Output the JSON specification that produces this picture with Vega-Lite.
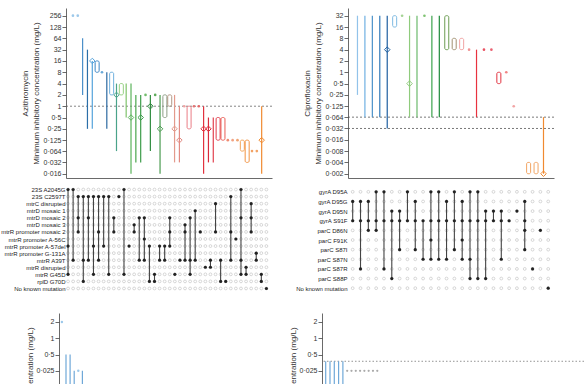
{
"$schema": "https://vega.github.io/schema/vega-lite/v6.json",
"padding": {"left": 0, "top": 8, "right": 0, "bottom": 0},
"config": {
  "view": {"stroke": null},
  "font": "Liberation Sans Narrow, Liberation Sans, sans-serif",
  "axis": {"labelFontSize": 7, "titleFontSize": 8, "titleFont": "Liberation Sans, sans-serif", "labelColor": "#333", "titleColor": "#333", "titleFontWeight": "normal", "domainColor": "#444", "tickColor": "#444", "tickSize": 4, "labelPadding": 1, "grid": false, "domainWidth": 0.8, "tickWidth": 0.8, "labelOverlap": false, "labelFlush": false, "labelBound": false}
},
"datasets": {
  "azv": [
    {"col":1,"lo":256,"hi":256,"kind":"dot"},
    {"col":2,"lo":256,"hi":256,"kind":"dot"},
    {"col":3,"lo":2,"hi":64,"kind":"line"},
    {"col":4,"lo":0.25,"hi":32,"kind":"line"},
    {"col":5,"lo":0.25,"hi":16,"kind":"line","mode":16},
    {"col":6,"lo":8,"hi":16,"kind":"box"},
    {"col":7,"lo":8,"hi":8,"kind":"dot"},
    {"col":8,"lo":0.25,"hi":8,"kind":"line"},
    {"col":9,"lo":2,"hi":8,"kind":"box"},
    {"col":10,"lo":0.064,"hi":4,"kind":"line","mode":2},
    {"col":11,"lo":2,"hi":4,"kind":"box"},
    {"col":12,"lo":0.5,"hi":4,"kind":"line"},
    {"col":13,"lo":0.016,"hi":4,"kind":"line","mode":0.5},
    {"col":14,"lo":0.032,"hi":2,"kind":"line"},
    {"col":15,"lo":0.032,"hi":2,"kind":"line","mode":0.5},
    {"col":16,"lo":2,"hi":2,"kind":"dot"},
    {"col":17,"lo":0.064,"hi":2,"kind":"line","mode":1},
    {"col":18,"lo":2,"hi":2,"kind":"dot"},
    {"col":19,"lo":0.016,"hi":2,"kind":"line","mode":0.25},
    {"col":20,"lo":0.5,"hi":2,"kind":"box"},
    {"col":21,"lo":1,"hi":2,"kind":"box"},
    {"col":22,"lo":0.032,"hi":2,"kind":"line","mode":0.25},
    {"col":23,"lo":0.032,"hi":1,"kind":"line","mode":0.125},
    {"col":24,"lo":1,"hi":1,"kind":"dot"},
    {"col":25,"lo":0.25,"hi":1,"kind":"box"},
    {"col":26,"lo":1,"hi":1,"kind":"dot"},
    {"col":27,"lo":1,"hi":1,"kind":"dot"},
    {"col":28,"lo":0.016,"hi":1,"kind":"line","mode":0.25},
    {"col":29,"lo":0.032,"hi":0.5,"kind":"line","mode":0.25},
    {"col":30,"lo":0.032,"hi":0.5,"kind":"line"},
    {"col":31,"lo":0.125,"hi":0.5,"kind":"box"},
    {"col":32,"lo":0.125,"hi":0.5,"kind":"box"},
    {"col":33,"lo":0.125,"hi":0.125,"kind":"dot"},
    {"col":34,"lo":0.125,"hi":0.125,"kind":"dot"},
    {"col":35,"lo":0.125,"hi":0.125,"kind":"dot"},
    {"col":36,"lo":0.064,"hi":0.125,"kind":"box"},
    {"col":37,"lo":0.032,"hi":0.125,"kind":"box"},
    {"col":38,"lo":0.064,"hi":0.064,"kind":"dot"},
    {"col":39,"lo":0.064,"hi":0.064,"kind":"dot"},
    {"col":40,"lo":0.016,"hi":1,"kind":"line","mode":0.125}
  ],
  "cpv": [
    {"col":1,"lo":0.25,"hi":32,"kind":"line"},
    {"col":2,"lo":0.064,"hi":32,"kind":"line"},
    {"col":3,"lo":0.064,"hi":32,"kind":"line"},
    {"col":4,"lo":0.064,"hi":32,"kind":"line"},
    {"col":5,"lo":0.032,"hi":32,"kind":"line","mode":4},
    {"col":6,"lo":16,"hi":32,"kind":"box"},
    {"col":7,"lo":32,"hi":32,"kind":"dot"},
    {"col":8,"lo":0.064,"hi":32,"kind":"line","mode":0.5},
    {"col":9,"lo":0.064,"hi":32,"kind":"line"},
    {"col":10,"lo":32,"hi":32,"kind":"dot"},
    {"col":11,"lo":0.064,"hi":32,"kind":"line"},
    {"col":12,"lo":0.064,"hi":32,"kind":"line"},
    {"col":13,"lo":4,"hi":32,"kind":"box"},
    {"col":14,"lo":4,"hi":8,"kind":"box"},
    {"col":15,"lo":4,"hi":8,"kind":"box"},
    {"col":16,"lo":4,"hi":4,"kind":"dot"},
    {"col":17,"lo":0.064,"hi":4,"kind":"line"},
    {"col":18,"lo":4,"hi":4,"kind":"dot"},
    {"col":19,"lo":4,"hi":4,"kind":"dot"},
    {"col":20,"lo":0.5,"hi":1,"kind":"box"},
    {"col":21,"lo":1,"hi":1,"kind":"dot"},
    {"col":22,"lo":0.125,"hi":0.125,"kind":"dot"},
    {"col":24,"lo":0.002,"hi":0.004,"kind":"box"},
    {"col":25,"lo":0.002,"hi":0.004,"kind":"box"},
    {"col":26,"lo":0.002,"hi":0.064,"kind":"line","mode":0.002}
  ],
  "azm": [
    {"col":1,"rows":[1,9,13]},{"col":2,"rows":[1,11]},{"col":3,"rows":[2,5,7]},{"col":4,"rows":[2,11,14]},
    {"col":5,"rows":[2,5,11]},{"col":6,"rows":[2,9,13]},{"col":7,"rows":[2,7,11]},{"col":8,"rows":[2,9]},
    {"col":9,"rows":[2,13]},{"col":10,"rows":[5,7]},{"col":11,"rows":[2]},{"col":12,"rows":[1,13]},
    {"col":13,"rows":[9]},{"col":14,"rows":[6,7]},{"col":15,"rows":[5,11]},{"col":16,"rows":[5,8,11]},
    {"col":17,"rows":[9,14]},{"col":18,"rows":[13,14]},{"col":19,"rows":[9,11]},{"col":20,"rows":[9,11]},
    {"col":21,"rows":[5,7,9]},{"col":22,"rows":[13]},{"col":23,"rows":[11]},{"col":24,"rows":[6,7,11]},
    {"col":25,"rows":[5,11,13]},{"col":26,"rows":[4,11]},{"col":27,"rows":[7]},{"col":28,"rows":[12]},
    {"col":29,"rows":[11,12]},{"col":30,"rows":[3,7]},{"col":31,"rows":[11,14]},{"col":32,"rows":[14]},
    {"col":33,"rows":[2,7,11]},{"col":34,"rows":[8]},{"col":35,"rows":[1,5,11,13]},{"col":36,"rows":[12,13]},
    {"col":37,"rows":[3,5,7]},{"col":38,"rows":[10,11]},{"col":39,"rows":[13,14]},{"col":40,"rows":[15]}
  ],
  "cpm": [
    {"col":1,"rows":[2,4]},{"col":2,"rows":[2,4,9]},{"col":3,"rows":[2,4,5]},{"col":4,"rows":[1,4,5]},
    {"col":5,"rows":[1,4,9]},{"col":6,"rows":[3,4,10]},{"col":7,"rows":[3,4,7]},{"col":8,"rows":[1,4]},
    {"col":9,"rows":[2,4,7]},{"col":10,"rows":[4,8]},{"col":11,"rows":[1,4,6,8]},{"col":12,"rows":[1,4,8]},
    {"col":13,"rows":[2,4,8]},{"col":14,"rows":[1,4,7]},{"col":15,"rows":[2,4,6,8]},{"col":16,"rows":[1,4,8,10]},
    {"col":17,"rows":[1,4,10]},{"col":18,"rows":[3,4,10]},{"col":19,"rows":[3,4]},{"col":20,"rows":[3,4,8]},
    {"col":21,"rows":[4]},{"col":22,"rows":[3]},{"col":23,"rows":[2,4,5,7]},{"col":24,"rows":[9]},
    {"col":25,"rows":[5]},{"col":26,"rows":[11]}
  ],
  "azgrid": [
    {"r":1,"col":[1,2,3,4,5,6,7,8,9,10,11,12,13,14,15,16,17,18,19,20,21,22,23,24,25,26,27,28,29,30,31,32,33,34,35,36,37,38,39,40]},
    {"r":2,"col":[1,2,3,4,5,6,7,8,9,10,11,12,13,14,15,16,17,18,19,20,21,22,23,24,25,26,27,28,29,30,31,32,33,34,35,36,37,38,39,40]},
    {"r":3,"col":[1,2,3,4,5,6,7,8,9,10,11,12,13,14,15,16,17,18,19,20,21,22,23,24,25,26,27,28,29,30,31,32,33,34,35,36,37,38,39,40]},
    {"r":4,"col":[1,2,3,4,5,6,7,8,9,10,11,12,13,14,15,16,17,18,19,20,21,22,23,24,25,26,27,28,29,30,31,32,33,34,35,36,37,38,39,40]},
    {"r":5,"col":[1,2,3,4,5,6,7,8,9,10,11,12,13,14,15,16,17,18,19,20,21,22,23,24,25,26,27,28,29,30,31,32,33,34,35,36,37,38,39,40]},
    {"r":6,"col":[1,2,3,4,5,6,7,8,9,10,11,12,13,14,15,16,17,18,19,20,21,22,23,24,25,26,27,28,29,30,31,32,33,34,35,36,37,38,39,40]},
    {"r":7,"col":[1,2,3,4,5,6,7,8,9,10,11,12,13,14,15,16,17,18,19,20,21,22,23,24,25,26,27,28,29,30,31,32,33,34,35,36,37,38,39,40]},
    {"r":8,"col":[1,2,3,4,5,6,7,8,9,10,11,12,13,14,15,16,17,18,19,20,21,22,23,24,25,26,27,28,29,30,31,32,33,34,35,36,37,38,39,40]},
    {"r":9,"col":[1,2,3,4,5,6,7,8,9,10,11,12,13,14,15,16,17,18,19,20,21,22,23,24,25,26,27,28,29,30,31,32,33,34,35,36,37,38,39,40]},
    {"r":10,"col":[1,2,3,4,5,6,7,8,9,10,11,12,13,14,15,16,17,18,19,20,21,22,23,24,25,26,27,28,29,30,31,32,33,34,35,36,37,38,39,40]},
    {"r":11,"col":[1,2,3,4,5,6,7,8,9,10,11,12,13,14,15,16,17,18,19,20,21,22,23,24,25,26,27,28,29,30,31,32,33,34,35,36,37,38,39,40]},
    {"r":12,"col":[1,2,3,4,5,6,7,8,9,10,11,12,13,14,15,16,17,18,19,20,21,22,23,24,25,26,27,28,29,30,31,32,33,34,35,36,37,38,39,40]},
    {"r":13,"col":[1,2,3,4,5,6,7,8,9,10,11,12,13,14,15,16,17,18,19,20,21,22,23,24,25,26,27,28,29,30,31,32,33,34,35,36,37,38,39,40]},
    {"r":14,"col":[1,2,3,4,5,6,7,8,9,10,11,12,13,14,15,16,17,18,19,20,21,22,23,24,25,26,27,28,29,30,31,32,33,34,35,36,37,38,39,40]},
    {"r":15,"col":[1,2,3,4,5,6,7,8,9,10,11,12,13,14,15,16,17,18,19,20,21,22,23,24,25,26,27,28,29,30,31,32,33,34,35,36,37,38,39,40]}
  ],
  "cpgrid": [
    {"r":1,"col":[1,2,3,4,5,6,7,8,9,10,11,12,13,14,15,16,17,18,19,20,21,22,23,24,25,26]},
    {"r":2,"col":[1,2,3,4,5,6,7,8,9,10,11,12,13,14,15,16,17,18,19,20,21,22,23,24,25,26]},
    {"r":3,"col":[1,2,3,4,5,6,7,8,9,10,11,12,13,14,15,16,17,18,19,20,21,22,23,24,25,26]},
    {"r":4,"col":[1,2,3,4,5,6,7,8,9,10,11,12,13,14,15,16,17,18,19,20,21,22,23,24,25,26]},
    {"r":5,"col":[1,2,3,4,5,6,7,8,9,10,11,12,13,14,15,16,17,18,19,20,21,22,23,24,25,26]},
    {"r":6,"col":[1,2,3,4,5,6,7,8,9,10,11,12,13,14,15,16,17,18,19,20,21,22,23,24,25,26]},
    {"r":7,"col":[1,2,3,4,5,6,7,8,9,10,11,12,13,14,15,16,17,18,19,20,21,22,23,24,25,26]},
    {"r":8,"col":[1,2,3,4,5,6,7,8,9,10,11,12,13,14,15,16,17,18,19,20,21,22,23,24,25,26]},
    {"r":9,"col":[1,2,3,4,5,6,7,8,9,10,11,12,13,14,15,16,17,18,19,20,21,22,23,24,25,26]},
    {"r":10,"col":[1,2,3,4,5,6,7,8,9,10,11,12,13,14,15,16,17,18,19,20,21,22,23,24,25,26]},
    {"r":11,"col":[1,2,3,4,5,6,7,8,9,10,11,12,13,14,15,16,17,18,19,20,21,22,23,24,25,26]}
  ],
  "lav": [
    {"col":1,"lo":2,"hi":2,"kind":"dot"},
    {"col":2,"lo":0.032,"hi":0.5,"kind":"line"},
    {"col":3,"lo":0.032,"hi":0.5,"kind":"line"},
    {"col":4,"lo":0.032,"hi":0.25,"kind":"line"},
    {"col":5,"lo":0.25,"hi":0.25,"kind":"dot"},
    {"col":6,"lo":0.064,"hi":0.25,"kind":"line"}
  ],
  "lcv": [
    {"col":1,"lo":0.032,"hi":0.375,"kind":"line"},
    {"col":2,"lo":0.032,"hi":0.375,"kind":"line"},
    {"col":3,"lo":0.032,"hi":0.375,"kind":"line"},
    {"col":4,"lo":0.032,"hi":0.375,"kind":"line"},
    {"col":5,"lo":0.032,"hi":0.375,"kind":"line"},
    {"col":6,"lo":0.25,"hi":0.25,"kind":"dot"},
    {"col":7,"lo":0.25,"hi":0.25,"kind":"dot"},
    {"col":8,"lo":0.25,"hi":0.25,"kind":"dot"},
    {"col":9,"lo":0.25,"hi":0.25,"kind":"dot"},
    {"col":10,"lo":0.25,"hi":0.25,"kind":"dot"},
    {"col":11,"lo":0.25,"hi":0.25,"kind":"dot"},
    {"col":12,"lo":0.25,"hi":0.25,"kind":"dot"},
    {"col":13,"lo":0.25,"hi":0.25,"kind":"dot"}
  ]
},
"spacing": 20,
"resolve": {"scale": {"color": "independent"}},
"vconcat": [
 {"hconcat": [
  {"vconcat": [
   {"width": 206, "height": 170,
    "layer": [
     {"data": {"values": [{"ref": 1}]}, "mark": {"type": "rule", "strokeDash": [2, 2], "strokeWidth": 0.8, "color": "#666"},
      "encoding": {"y": {"field": "ref", "type": "quantitative", "scale": {"type": "log", "base": 2, "domain": [0.0123, 410], "nice": false}, "axis": {"values": [256,128,64,32,16,8,4,2,1,0.5,0.25,0.125,0.064,0.032,0.016], "labelExpr": "replace(toString(datum.value), '.', '·')", "title": ["Azithromycin", "Minimum inhibitory concentration (mg/L)"], "titlePadding": 3, "titleLineHeight": 11}}}},
     {"data": {"name": "azv"}, "transform": [{"filter": "datum.kind == 'line'"}], "mark": {"type": "rule", "strokeWidth": 1.2},
      "encoding": {"x": {"field": "col", "type": "quantitative", "scale": {"domain": [0.6, 41.1], "nice": false, "zero": false}, "axis": {"labels": false, "ticks": false, "title": null, "domain": true}},
       "y": {"field": "lo", "type": "quantitative", "scale": {"type": "log", "base": 2, "domain": [0.0123, 410], "nice": false}, "axis": {"values": [256,128,64,32,16,8,4,2,1,0.5,0.25,0.125,0.064,0.032,0.016], "labelExpr": "replace(toString(datum.value), '.', '·')", "title": ["Azithromycin", "Minimum inhibitory concentration (mg/L)"], "titlePadding": 3, "titleLineHeight": 11}},
       "y2": {"field": "hi"},
       "color": {"field": "col", "type": "ordinal", "scale": {"domain": [1,2,3,4,5,6,7,8,9,10,11,12,13,14,15,16,17,18,19,20,21,22,23,24,25,26,27,28,29,30,31,32,33,34,35,36,37,38,39,40], "range": ["#9cc8ea","#9cc8ea","#4a8fc9","#2b6ea8","#55a3dc","#3a85c4","#6aaad8","#2c69a0","#6fb0de","#4aa38a","#94d080","#80c46c","#5cb35c","#4aa64c","#3d9c4a","#72bd6c","#2f8b3f","#5eab5a","#4c9c52","#8e9e86","#b39684","#e39a8c","#e28a82","#f0a4a4","#ea7d86","#e57575","#e36868","#e2323f","#da2a3a","#e2414f","#e33c4a","#ea5c54","#f08c72","#f2a282","#f0a574","#f2a456","#f29342","#f2a366","#f2a366","#f08a30"]}, "legend": null}}},
     {"data": {"name": "azv"}, "transform": [{"filter": "datum.kind == 'box'"}], "mark": {"type": "bar", "width": 4, "filled": false, "strokeWidth": 1, "cornerRadius": 1.5},
      "encoding": {"x": {"field": "col", "type": "quantitative", "scale": {"domain": [0.6, 41.1], "nice": false, "zero": false}, "axis": {"labels": false, "ticks": false, "title": null, "domain": true}},
       "y": {"field": "lo", "type": "quantitative", "scale": {"type": "log", "base": 2, "domain": [0.0123, 410], "nice": false}, "axis": {"values": [256,128,64,32,16,8,4,2,1,0.5,0.25,0.125,0.064,0.032,0.016], "labelExpr": "replace(toString(datum.value), '.', '·')", "title": ["Azithromycin", "Minimum inhibitory concentration (mg/L)"], "titlePadding": 3, "titleLineHeight": 11}},
       "y2": {"field": "hi"},
       "color": {"field": "col", "type": "ordinal", "scale": {"domain": [1,2,3,4,5,6,7,8,9,10,11,12,13,14,15,16,17,18,19,20,21,22,23,24,25,26,27,28,29,30,31,32,33,34,35,36,37,38,39,40], "range": ["#9cc8ea","#9cc8ea","#4a8fc9","#2b6ea8","#55a3dc","#3a85c4","#6aaad8","#2c69a0","#6fb0de","#4aa38a","#94d080","#80c46c","#5cb35c","#4aa64c","#3d9c4a","#72bd6c","#2f8b3f","#5eab5a","#4c9c52","#8e9e86","#b39684","#e39a8c","#e28a82","#f0a4a4","#ea7d86","#e57575","#e36868","#e2323f","#da2a3a","#e2414f","#e33c4a","#ea5c54","#f08c72","#f2a282","#f0a574","#f2a456","#f29342","#f2a366","#f2a366","#f08a30"]}, "legend": null}}},
     {"data": {"name": "azv"}, "transform": [{"filter": "isValid(datum.mode)"}], "mark": {"type": "point", "shape": "diamond", "filled": false, "size": 30, "strokeWidth": 1, "opacity": 1},
      "encoding": {"x": {"field": "col", "type": "quantitative", "scale": {"domain": [0.6, 41.1], "nice": false, "zero": false}, "axis": {"labels": false, "ticks": false, "title": null, "domain": true}},
       "y": {"field": "mode", "type": "quantitative", "scale": {"type": "log", "base": 2, "domain": [0.0123, 410], "nice": false}, "axis": {"values": [256,128,64,32,16,8,4,2,1,0.5,0.25,0.125,0.064,0.032,0.016], "labelExpr": "replace(toString(datum.value), '.', '·')", "title": ["Azithromycin", "Minimum inhibitory concentration (mg/L)"], "titlePadding": 3, "titleLineHeight": 11}},
       "color": {"field": "col", "type": "ordinal", "scale": {"domain": [1,2,3,4,5,6,7,8,9,10,11,12,13,14,15,16,17,18,19,20,21,22,23,24,25,26,27,28,29,30,31,32,33,34,35,36,37,38,39,40], "range": ["#9cc8ea","#9cc8ea","#4a8fc9","#2b6ea8","#55a3dc","#3a85c4","#6aaad8","#2c69a0","#6fb0de","#4aa38a","#94d080","#80c46c","#5cb35c","#4aa64c","#3d9c4a","#72bd6c","#2f8b3f","#5eab5a","#4c9c52","#8e9e86","#b39684","#e39a8c","#e28a82","#f0a4a4","#ea7d86","#e57575","#e36868","#e2323f","#da2a3a","#e2414f","#e33c4a","#ea5c54","#f08c72","#f2a282","#f0a574","#f2a456","#f29342","#f2a366","#f2a366","#f08a30"]}, "legend": null}}},
     {"data": {"name": "azv"}, "transform": [{"filter": "datum.kind == 'dot'"}], "mark": {"type": "point", "shape": "circle", "filled": true, "size": 7, "opacity": 1},
      "encoding": {"x": {"field": "col", "type": "quantitative", "scale": {"domain": [0.6, 41.1], "nice": false, "zero": false}, "axis": {"labels": false, "ticks": false, "title": null, "domain": true}},
       "y": {"field": "lo", "type": "quantitative", "scale": {"type": "log", "base": 2, "domain": [0.0123, 410], "nice": false}, "axis": {"values": [256,128,64,32,16,8,4,2,1,0.5,0.25,0.125,0.064,0.032,0.016], "labelExpr": "replace(toString(datum.value), '.', '·')", "title": ["Azithromycin", "Minimum inhibitory concentration (mg/L)"], "titlePadding": 3, "titleLineHeight": 11}},
       "color": {"field": "col", "type": "ordinal", "scale": {"domain": [1,2,3,4,5,6,7,8,9,10,11,12,13,14,15,16,17,18,19,20,21,22,23,24,25,26,27,28,29,30,31,32,33,34,35,36,37,38,39,40], "range": ["#9cc8ea","#9cc8ea","#4a8fc9","#2b6ea8","#55a3dc","#3a85c4","#6aaad8","#2c69a0","#6fb0de","#4aa38a","#94d080","#80c46c","#5cb35c","#4aa64c","#3d9c4a","#72bd6c","#2f8b3f","#5eab5a","#4c9c52","#8e9e86","#b39684","#e39a8c","#e28a82","#f0a4a4","#ea7d86","#e57575","#e36868","#e2323f","#da2a3a","#e2414f","#e33c4a","#ea5c54","#f08c72","#f2a282","#f0a574","#f2a456","#f29342","#f2a366","#f2a366","#f08a30"]}, "legend": null}}}
    ]},
   {"width": 206, "height": 106,
    "layer": [
     {"data": {"name": "azgrid"}, "transform": [{"flatten": ["col"]}], "mark": {"type": "point", "shape": "circle", "filled": false, "color": "#bdbdbd", "size": 8, "strokeWidth": 0.6, "opacity": 1},
      "encoding": {"x": {"field": "col", "type": "quantitative", "scale": {"domain": [0.6, 41.1], "nice": false, "zero": false}, "axis": null},
       "y": {"field": "r", "type": "quantitative", "scale": {"domain": [0.5, 15.5], "reverse": true, "nice": false, "zero": false}, "axis": {"values": [1,2,3,4,5,6,7,8,9,10,11,12,13,14,15], "labelExpr": "['23S A2045G','23S C2597T','mtrC disrupted','mtrD mosaic 1','mtrD mosaic 2','mtrD mosaic 3','mtrR promoter mosaic 2','mtrR promoter A-56C','mtrR promoter A-57del','mtrR promoter G-131A','mtrR A39T','mtrR disrupted','mtrR G45D','rplD G70D','No known mutation'][datum.value - 1]", "domain": false, "ticks": false, "labelPadding": 1, "labelFontSize": 6.0, "labelColor": "#222", "title": null}}}},
     {"data": {"name": "azm"}, "transform": [{"flatten": ["rows"]}, {"aggregate": [{"op": "min", "field": "rows", "as": "r1"}, {"op": "max", "field": "rows", "as": "r2"}], "groupby": ["col"]}], "mark": {"type": "rule", "color": "#444", "strokeWidth": 1.1},
      "encoding": {"x": {"field": "col", "type": "quantitative", "scale": {"domain": [0.6, 41.1], "nice": false, "zero": false}, "axis": null},
       "y": {"field": "r1", "type": "quantitative", "scale": {"domain": [0.5, 15.5], "reverse": true, "nice": false, "zero": false}, "axis": {"values": [1,2,3,4,5,6,7,8,9,10,11,12,13,14,15], "labelExpr": "['23S A2045G','23S C2597T','mtrC disrupted','mtrD mosaic 1','mtrD mosaic 2','mtrD mosaic 3','mtrR promoter mosaic 2','mtrR promoter A-56C','mtrR promoter A-57del','mtrR promoter G-131A','mtrR A39T','mtrR disrupted','mtrR G45D','rplD G70D','No known mutation'][datum.value - 1]", "domain": false, "ticks": false, "labelPadding": 1, "labelFontSize": 6.0, "labelColor": "#222", "title": null}},
       "y2": {"field": "r2"}}},
     {"data": {"name": "azm"}, "transform": [{"flatten": ["rows"]}], "mark": {"type": "point", "shape": "circle", "filled": true, "color": "#222", "size": 10, "opacity": 1},
      "encoding": {"x": {"field": "col", "type": "quantitative", "scale": {"domain": [0.6, 41.1], "nice": false, "zero": false}, "axis": null},
       "y": {"field": "rows", "type": "quantitative", "scale": {"domain": [0.5, 15.5], "reverse": true, "nice": false, "zero": false}, "axis": {"values": [1,2,3,4,5,6,7,8,9,10,11,12,13,14,15], "labelExpr": "['23S A2045G','23S C2597T','mtrC disrupted','mtrD mosaic 1','mtrD mosaic 2','mtrD mosaic 3','mtrR promoter mosaic 2','mtrR promoter A-56C','mtrR promoter A-57del','mtrR promoter G-131A','mtrR A39T','mtrR disrupted','mtrR G45D','rplD G70D','No known mutation'][datum.value - 1]", "domain": false, "ticks": false, "labelPadding": 1, "labelFontSize": 6.0, "labelColor": "#222", "title": null}}}}
    ]}
  ], "spacing": 8, "resolve": {"scale": {"color": "independent"}}},
  {"vconcat": [
   {"width": 206, "height": 170,
    "layer": [
     {"data": {"values": [{"ref": 0.064}, {"ref": 0.032}]}, "mark": {"type": "rule", "strokeDash": [2, 2], "strokeWidth": 0.8, "color": "#555"},
      "encoding": {"y": {"field": "ref", "type": "quantitative", "scale": {"type": "log", "base": 2, "domain": [0.00154, 51.3], "nice": false}, "axis": {"values": [32,16,8,4,2,1,0.5,0.25,0.125,0.064,0.032,0.016,0.008,0.004,0.002], "labelExpr": "replace(toString(datum.value), '.', '·')", "title": ["Ciprofloxacin", "Minimum inhibitory concentration (mg/L)"], "titlePadding": 3, "titleLineHeight": 11}}}},
     {"data": {"name": "cpv"}, "transform": [{"filter": "datum.kind == 'line'"}], "mark": {"type": "rule", "strokeWidth": 1.2},
      "encoding": {"x": {"field": "col", "type": "quantitative", "scale": {"domain": [0.4, 26.74], "nice": false, "zero": false}, "axis": {"labels": false, "ticks": false, "title": null, "domain": true}},
       "y": {"field": "lo", "type": "quantitative", "scale": {"type": "log", "base": 2, "domain": [0.00154, 51.3], "nice": false}, "axis": {"values": [32,16,8,4,2,1,0.5,0.25,0.125,0.064,0.032,0.016,0.008,0.004,0.002], "labelExpr": "replace(toString(datum.value), '.', '·')", "title": ["Ciprofloxacin", "Minimum inhibitory concentration (mg/L)"], "titlePadding": 3, "titleLineHeight": 11}},
       "y2": {"field": "hi"},
       "color": {"field": "col", "type": "ordinal", "scale": {"domain": [1,2,3,4,5,6,7,8,9,10,11,12,13,14,15,16,17,18,19,20,21,22,23,24,25,26], "range": ["#92c3ea","#6fb0e2","#4b91c9","#2f79b9","#1f5fa0","#7db9e2","#a4d394","#8fcb7c","#6cba6c","#7fc372","#3ca24c","#1f8a3a","#6c9c52","#a39272","#f2a4a4","#f09494","#e8323f","#ea5262","#ea6272","#e2323f","#f28484","#f2a4a4","#f0a060","#f2a462","#f2a462","#f08a30"]}, "legend": null}}},
     {"data": {"name": "cpv"}, "transform": [{"filter": "datum.kind == 'box'"}], "mark": {"type": "bar", "width": 4, "filled": false, "strokeWidth": 1, "cornerRadius": 1.5},
      "encoding": {"x": {"field": "col", "type": "quantitative", "scale": {"domain": [0.4, 26.74], "nice": false, "zero": false}, "axis": {"labels": false, "ticks": false, "title": null, "domain": true}},
       "y": {"field": "lo", "type": "quantitative", "scale": {"type": "log", "base": 2, "domain": [0.00154, 51.3], "nice": false}, "axis": {"values": [32,16,8,4,2,1,0.5,0.25,0.125,0.064,0.032,0.016,0.008,0.004,0.002], "labelExpr": "replace(toString(datum.value), '.', '·')", "title": ["Ciprofloxacin", "Minimum inhibitory concentration (mg/L)"], "titlePadding": 3, "titleLineHeight": 11}},
       "y2": {"field": "hi"},
       "color": {"field": "col", "type": "ordinal", "scale": {"domain": [1,2,3,4,5,6,7,8,9,10,11,12,13,14,15,16,17,18,19,20,21,22,23,24,25,26], "range": ["#92c3ea","#6fb0e2","#4b91c9","#2f79b9","#1f5fa0","#7db9e2","#a4d394","#8fcb7c","#6cba6c","#7fc372","#3ca24c","#1f8a3a","#6c9c52","#a39272","#f2a4a4","#f09494","#e8323f","#ea5262","#ea6272","#e2323f","#f28484","#f2a4a4","#f0a060","#f2a462","#f2a462","#f08a30"]}, "legend": null}}},
     {"data": {"name": "cpv"}, "transform": [{"filter": "isValid(datum.mode)"}], "mark": {"type": "point", "shape": "diamond", "filled": false, "size": 30, "strokeWidth": 1, "opacity": 1},
      "encoding": {"x": {"field": "col", "type": "quantitative", "scale": {"domain": [0.4, 26.74], "nice": false, "zero": false}, "axis": {"labels": false, "ticks": false, "title": null, "domain": true}},
       "y": {"field": "mode", "type": "quantitative", "scale": {"type": "log", "base": 2, "domain": [0.00154, 51.3], "nice": false}, "axis": {"values": [32,16,8,4,2,1,0.5,0.25,0.125,0.064,0.032,0.016,0.008,0.004,0.002], "labelExpr": "replace(toString(datum.value), '.', '·')", "title": ["Ciprofloxacin", "Minimum inhibitory concentration (mg/L)"], "titlePadding": 3, "titleLineHeight": 11}},
       "color": {"field": "col", "type": "ordinal", "scale": {"domain": [1,2,3,4,5,6,7,8,9,10,11,12,13,14,15,16,17,18,19,20,21,22,23,24,25,26], "range": ["#92c3ea","#6fb0e2","#4b91c9","#2f79b9","#1f5fa0","#7db9e2","#a4d394","#8fcb7c","#6cba6c","#7fc372","#3ca24c","#1f8a3a","#6c9c52","#a39272","#f2a4a4","#f09494","#e8323f","#ea5262","#ea6272","#e2323f","#f28484","#f2a4a4","#f0a060","#f2a462","#f2a462","#f08a30"]}, "legend": null}}},
     {"data": {"name": "cpv"}, "transform": [{"filter": "datum.kind == 'dot'"}], "mark": {"type": "point", "shape": "circle", "filled": true, "size": 7, "opacity": 1},
      "encoding": {"x": {"field": "col", "type": "quantitative", "scale": {"domain": [0.4, 26.74], "nice": false, "zero": false}, "axis": {"labels": false, "ticks": false, "title": null, "domain": true}},
       "y": {"field": "lo", "type": "quantitative", "scale": {"type": "log", "base": 2, "domain": [0.00154, 51.3], "nice": false}, "axis": {"values": [32,16,8,4,2,1,0.5,0.25,0.125,0.064,0.032,0.016,0.008,0.004,0.002], "labelExpr": "replace(toString(datum.value), '.', '·')", "title": ["Ciprofloxacin", "Minimum inhibitory concentration (mg/L)"], "titlePadding": 3, "titleLineHeight": 11}},
       "color": {"field": "col", "type": "ordinal", "scale": {"domain": [1,2,3,4,5,6,7,8,9,10,11,12,13,14,15,16,17,18,19,20,21,22,23,24,25,26], "range": ["#92c3ea","#6fb0e2","#4b91c9","#2f79b9","#1f5fa0","#7db9e2","#a4d394","#8fcb7c","#6cba6c","#7fc372","#3ca24c","#1f8a3a","#6c9c52","#a39272","#f2a4a4","#f09494","#e8323f","#ea5262","#ea6272","#e2323f","#f28484","#f2a4a4","#f0a060","#f2a462","#f2a462","#f08a30"]}, "legend": null}}}
    ]},
   {"width": 206, "height": 106,
    "layer": [
     {"data": {"name": "cpgrid"}, "transform": [{"flatten": ["col"]}], "mark": {"type": "point", "shape": "circle", "filled": false, "color": "#bdbdbd", "size": 8, "strokeWidth": 0.6, "opacity": 1},
      "encoding": {"x": {"field": "col", "type": "quantitative", "scale": {"domain": [0.4, 26.74], "nice": false, "zero": false}, "axis": null},
       "y": {"field": "r", "type": "quantitative", "scale": {"domain": [0.5, 11.5], "reverse": true, "nice": false, "zero": false}, "axis": {"values": [1,2,3,4,5,6,7,8,9,10,11], "labelExpr": "['gyrA D95A','gyrA D95G','gyrA D95N','gyrA S91F','parC D86N','parC F91K','parC S87I','parC S87N','parC S87R','parC S88P','No known mutation'][datum.value - 1]", "domain": false, "ticks": false, "labelPadding": 1, "labelFontSize": 6.0, "labelColor": "#222", "title": null}}}},
     {"data": {"name": "cpm"}, "transform": [{"flatten": ["rows"]}, {"aggregate": [{"op": "min", "field": "rows", "as": "r1"}, {"op": "max", "field": "rows", "as": "r2"}], "groupby": ["col"]}], "mark": {"type": "rule", "color": "#444", "strokeWidth": 1.1},
      "encoding": {"x": {"field": "col", "type": "quantitative", "scale": {"domain": [0.4, 26.74], "nice": false, "zero": false}, "axis": null},
       "y": {"field": "r1", "type": "quantitative", "scale": {"domain": [0.5, 11.5], "reverse": true, "nice": false, "zero": false}, "axis": {"values": [1,2,3,4,5,6,7,8,9,10,11], "labelExpr": "['gyrA D95A','gyrA D95G','gyrA D95N','gyrA S91F','parC D86N','parC F91K','parC S87I','parC S87N','parC S87R','parC S88P','No known mutation'][datum.value - 1]", "domain": false, "ticks": false, "labelPadding": 1, "labelFontSize": 6.0, "labelColor": "#222", "title": null}},
       "y2": {"field": "r2"}}},
     {"data": {"name": "cpm"}, "transform": [{"flatten": ["rows"]}], "mark": {"type": "point", "shape": "circle", "filled": true, "color": "#222", "size": 10, "opacity": 1},
      "encoding": {"x": {"field": "col", "type": "quantitative", "scale": {"domain": [0.4, 26.74], "nice": false, "zero": false}, "axis": null},
       "y": {"field": "rows", "type": "quantitative", "scale": {"domain": [0.5, 11.5], "reverse": true, "nice": false, "zero": false}, "axis": {"values": [1,2,3,4,5,6,7,8,9,10,11], "labelExpr": "['gyrA D95A','gyrA D95G','gyrA D95N','gyrA S91F','parC D86N','parC F91K','parC S87I','parC S87N','parC S87R','parC S88P','No known mutation'][datum.value - 1]", "domain": false, "ticks": false, "labelPadding": 1, "labelFontSize": 6.0, "labelColor": "#222", "title": null}}}}
    ]}
  ], "spacing": 8, "resolve": {"scale": {"color": "independent"}}}
 ], "spacing": 22, "resolve": {"scale": {"color": "independent"}}},
 {"hconcat": [
  {"width": 198, "height": 170,
   "layer": [
    {"data": {"name": "lav"}, "transform": [{"filter": "datum.kind == 'line'"}], "mark": {"type": "rule", "strokeWidth": 1.2, "color": "#6fa8d8"},
     "encoding": {"x": {"field": "col", "type": "quantitative", "scale": {"domain": [2.0, 50.3], "nice": false, "zero": false}, "axis": null},
      "y": {"field": "lo", "type": "quantitative", "scale": {"type": "log", "base": 2, "domain": [0.0021, 2.93], "nice": false}, "axis": {"values": [2, 1, 0.5, 0.25], "labelExpr": "datum.value == 0.25 ? '0·025' : replace(toString(datum.value), '.', '·')", "title": "Minimum inhibitory concentration (mg/L)", "titlePadding": 2, "offset": 7}},
      "y2": {"field": "hi"}}},
    {"data": {"name": "lav"}, "transform": [{"filter": "datum.kind == 'dot'"}], "mark": {"type": "point", "shape": "circle", "filled": true, "size": 6, "opacity": 1, "color": "#9cc8ea"},
     "encoding": {"x": {"field": "col", "type": "quantitative", "scale": {"domain": [2.0, 50.3], "nice": false, "zero": false}, "axis": null},
      "y": {"field": "lo", "type": "quantitative", "scale": {"type": "log", "base": 2, "domain": [0.0021, 2.93], "nice": false}, "axis": {"values": [2, 1, 0.5, 0.25], "labelExpr": "datum.value == 0.25 ? '0·025' : replace(toString(datum.value), '.', '·')", "title": "Minimum inhibitory concentration (mg/L)", "titlePadding": 2, "offset": 7}}}}
   ]},
  {"width": 262, "height": 170,
   "layer": [
    {"data": {"values": [{"ref": 0.375}]}, "mark": {"type": "rule", "strokeDash": [1.5, 2], "strokeWidth": 0.8, "color": "#777"},
     "encoding": {"y": {"field": "ref", "type": "quantitative", "scale": {"type": "log", "base": 2, "domain": [0.0021, 2.93], "nice": false}, "axis": {"values": [2, 1, 0.5, 0.25], "labelExpr": "datum.value == 0.25 ? '0·025' : replace(toString(datum.value), '.', '·')", "title": "Minimum inhibitory concentration (mg/L)", "titlePadding": 2}}}},
    {"data": {"name": "lcv"}, "transform": [{"filter": "datum.kind == 'line'"}], "mark": {"type": "rule", "strokeWidth": 1.2, "color": "#6fa8d8"},
     "encoding": {"x": {"field": "col", "type": "quantitative", "scale": {"domain": [0.14, 61.1], "nice": false, "zero": false}, "axis": null},
      "y": {"field": "lo", "type": "quantitative", "scale": {"type": "log", "base": 2, "domain": [0.0021, 2.93], "nice": false}, "axis": {"values": [2, 1, 0.5, 0.25], "labelExpr": "datum.value == 0.25 ? '0·025' : replace(toString(datum.value), '.', '·')", "title": "Minimum inhibitory concentration (mg/L)", "titlePadding": 2}},
      "y2": {"field": "hi"}}},
    {"data": {"name": "lcv"}, "transform": [{"filter": "datum.kind == 'dot'"}], "mark": {"type": "point", "shape": "circle", "filled": true, "size": 5, "opacity": 1, "color": "#aaa"},
     "encoding": {"x": {"field": "col", "type": "quantitative", "scale": {"domain": [0.14, 61.1], "nice": false, "zero": false}, "axis": null},
      "y": {"field": "lo", "type": "quantitative", "scale": {"type": "log", "base": 2, "domain": [0.0021, 2.93], "nice": false}, "axis": {"values": [2, 1, 0.5, 0.25], "labelExpr": "datum.value == 0.25 ? '0·025' : replace(toString(datum.value), '.', '·')", "title": "Minimum inhibitory concentration (mg/L)", "titlePadding": 2}}}}
   ]}
 ], "spacing": 25}
]
}
